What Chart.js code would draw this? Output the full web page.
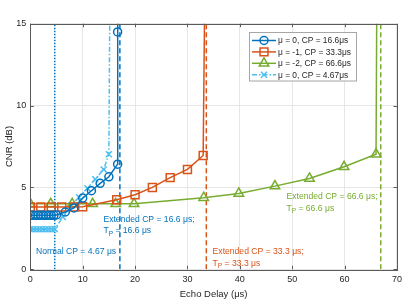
<!DOCTYPE html>
<html>
<head>
<meta charset="utf-8">
<script src="https://cdn.jsdelivr.net/npm/chart.js@4"></script>
<style>
html,body{margin:0;padding:0;background:#fff;}
#wrap{width:407px;height:303px;}
</style>
</head>
<body>
<div id="wrap"><canvas id="c" width="407" height="303"></canvas></div>
<script>
// ---- data ----
const xTicks = [0,10,20,30,40,50,60,70];
const yTicks = [0,5,10,15];

const s1Label = 'μ = 0, CP = 16.6μs';
const s1X = [0,0.5,1,1.5,2,2.5,3,3.5,4,4.5,5,6.67,8.33,10,11.67,13.33,15,16.67,16.67,16.7];
const s1Y = [3.3,3.3,3.3,3.3,3.3,3.3,3.3,3.3,3.3,3.3,3.32,3.5,3.75,4.35,4.8,5.25,5.65,6.42,14.5,20];

const s2Label = 'μ = -1, CP = 33.3μs';
const s2X = [0,2,4,6,8.3,10,16.5,20,23.3,26.7,30,33,33.4];
const s2Y = [3.8,3.8,3.8,3.8,3.8,3.82,4.25,4.55,5.0,5.6,6.1,6.95,20];

const s3Label = 'μ = -2, CP = 66.6μs';
const s3X = [0,3.9,8,11.9,16.3,19.8,33.1,39.8,46.7,53.3,59.9,66.0,66.2];
const s3Y = [4.0,4.0,4.0,4.0,4.0,4.0,4.37,4.63,5.08,5.55,6.26,7.03,20];

const s4Label = 'μ = 0, CP = 4.67μs';
const s4X = [0,0.58,1.17,1.75,2.33,2.92,3.5,4.08,4.67,6.2,7.8,9.3,10.9,12.4,14.0,15.0,15.25];
const s4Y = [2.45,2.45,2.45,2.45,2.45,2.45,2.45,2.45,2.45,3.2,3.9,4.4,4.95,5.5,6.1,7.03,20];

// vertical CP markers (x positions)
const cpDotted = [4.67];
const cpDashed = [17.1, 33.6, 66.9];

// annotation texts
const annTexts = [
  ['Extended CP = 16.6 μs;', 'T|P| = 16.6 μs'],
  ['Normal CP = 4.67 μs'],
  ['Extended CP = 33.3 μs;', 'T|P| = 33.3 μs'],
  ['Extended CP = 66.6 μs;', 'T|P| = 66.6 μs']
];
const annAnchorX = [13.96, 1.08, 34.8, 48.9];
const annAnchorY = [3.05, 1.07, 1.07, 4.43];

const xTitle = 'Echo Delay (μs)';
const yTitle = 'CNR (dB)';

// ---- styles ----
const C_BLUE = '#0072BD', C_ORANGE = '#D95319', C_GREEN = '#77AC30', C_LBLUE = '#4DBEEE';
const annColors = [C_BLUE, C_BLUE, C_ORANGE, C_GREEN];
const FONT = '"Liberation Sans", Arial, sans-serif';

const pts = (xs, ys) => xs.map((x, i) => ({x, y: ys[i]}));
const vline = x => [{x, y: 0}, {x, y: 15}];

function series(label, xs, ys, color, style, r, dash) {
  return {
    label, data: pts(xs, ys), showLine: true, borderColor: color,
    backgroundColor: 'rgba(0,0,0,0)', borderWidth: 1.5, borderDash: dash || [],
    pointStyle: style, pointBorderColor: color, pointBackgroundColor: 'rgba(0,0,0,0)',
    pointBorderWidth: 1.5, pointRadius: ctx => (ctx.raw && ctx.raw.y > 15 ? 0 : r),
    pointHoverRadius: 0, tension: 0, isSeries: true
  };
}
function vds(x, color, dash) {
  return {label: '', data: vline(x), showLine: true, borderColor: color, borderWidth: 1.5,
    borderDash: dash, pointRadius: 0, isSeries: false};
}

const datasets = [
  series(s1Label, s1X, s1Y, C_BLUE, 'circle', 4),
  series(s2Label, s2X, s2Y, C_ORANGE, 'rect', 5.6),
  series(s3Label, s3X, s3Y, C_GREEN, 'triangle', 5.5),
  series(s4Label, s4X, s4Y, C_LBLUE, 'crossRot', 4.2, [5, 2, 1.5, 2]),
  vds(cpDotted[0], C_BLUE, [1.5, 1.5]),
  vds(cpDashed[0], C_BLUE, [5, 3]),
  vds(cpDashed[1], C_ORANGE, [5, 3]),
  vds(cpDashed[2], C_GREEN, [5, 3])
];

function drawMarker(ctx, style, x, y, r, color) {
  Chart.helpers.drawPoint(ctx, {pointStyle: style, radius: r, borderWidth: 1.5}, x, y);
}

const decor = {
  id: 'decor',
  afterDatasetsDraw(chart) {
    const {ctx, chartArea: a, scales} = chart;
    const xs = scales.x, ys = scales.y;
    ctx.save();
    // frame + inward ticks
    ctx.strokeStyle = '#5a5a5a';
    ctx.lineWidth = 1;
    ctx.strokeRect(Math.round(a.left) + 0.5, Math.round(a.top) + 0.5,
      Math.round(a.right - a.left), Math.round(a.bottom - a.top));
    ctx.beginPath();
    xTicks.forEach(v => {
      const px = Math.round(xs.getPixelForValue(v)) + 0.5;
      ctx.moveTo(px, a.bottom); ctx.lineTo(px, a.bottom - 3.5);
      ctx.moveTo(px, a.top); ctx.lineTo(px, a.top + 3.5);
    });
    yTicks.forEach(v => {
      const py = Math.round(ys.getPixelForValue(v)) + 0.5;
      ctx.moveTo(a.left, py); ctx.lineTo(a.left + 3.5, py);
      ctx.moveTo(a.right, py); ctx.lineTo(a.right - 3.5, py);
    });
    ctx.stroke();

    // annotations
    ctx.textBaseline = 'middle';
    ctx.textAlign = 'left';
    annTexts.forEach((lines, i) => {
      ctx.fillStyle = annColors[i];
      const x0 = xs.getPixelForValue(annAnchorX[i]);
      const y0 = ys.getPixelForValue(annAnchorY[i]);
      lines.forEach((t, j) => {
        const y = y0 + j * 11.5;
        const parts = t.split('|');
        let x = x0;
        parts.forEach((p, k) => {
          if (k === 1) {
            ctx.font = '6.5px ' + FONT;
            ctx.fillText(p, x, y + 3);
          } else {
            ctx.font = '8.6px ' + FONT;
            ctx.fillText(p, x, y);
          }
          x += ctx.measureText(p).width;
        });
      });
    });

    // legend
    const L = {l: 249.5, t: 32.5, r: 356.5, b: 81};
    ctx.fillStyle = '#fff';
    ctx.fillRect(L.l, L.t, L.r - L.l, L.b - L.t);
    ctx.strokeStyle = '#a6a6a6';
    ctx.lineWidth = 1;
    ctx.strokeRect(L.l, L.t, L.r - L.l, L.b - L.t);
    const ser = chart.data.datasets.filter(d => d.isSeries);
    ser.forEach((d, i) => {
      const y = 40.5 + i * 11.4;
      ctx.strokeStyle = d.borderColor;
      ctx.lineWidth = 1.5;
      ctx.setLineDash(d.borderDash || []);
      ctx.beginPath(); ctx.moveTo(252, y); ctx.lineTo(276, y); ctx.stroke();
      ctx.setLineDash([]);
      const r = typeof d.pointRadius === 'function' ? d.pointRadius({raw: {y: 0}}) : d.pointRadius;
      ctx.fillStyle = 'rgba(0,0,0,0)';
      drawMarker(ctx, d.pointStyle, 264, y, r, d.borderColor);
      ctx.fillStyle = '#262626';
      ctx.font = '8.4px ' + FONT;
      ctx.textAlign = 'left';
      ctx.fillText(d.label, 278, y + 0.5);
    });

    // axis titles
    ctx.fillStyle = '#262626';
    ctx.font = '9.5px ' + FONT;
    ctx.textAlign = 'center';
    ctx.fillText(xTitle, (a.left + a.right) / 2, 294);
    ctx.save();
    ctx.translate(9, (a.top + a.bottom) / 2);
    ctx.rotate(-Math.PI / 2);
    ctx.fillText(yTitle, 0, 0);
    ctx.restore();
    ctx.restore();
  }
};

new Chart(document.getElementById('c'), {
  type: 'scatter',
  data: {datasets},
  options: {
    responsive: false,
    animation: false,
    events: [],
    layout: {padding: {left: 0, top: 23.7, right: 7.5, bottom: 0}},
    plugins: {legend: {display: false}, tooltip: {enabled: false}},
    scales: {
      x: {
        type: 'linear', min: 0, max: 70,
        afterBuildTicks: s => { s.ticks = xTicks.map(v => ({value: v})); },
        afterFit: s => { s.height = 33.7; },
        grid: {color: '#e6e6e6', lineWidth: 1, drawTicks: false},
        border: {display: false},
        ticks: {padding: 5, color: '#262626', font: {family: FONT, size: 9}, maxRotation: 0}
      },
      y: {
        type: 'linear', min: 0, max: 15,
        afterBuildTicks: s => { s.ticks = yTicks.map(v => ({value: v})); },
        afterFit: s => { s.width = 30.3; },
        grid: {color: '#e6e6e6', lineWidth: 1, drawTicks: false},
        border: {display: false},
        ticks: {padding: 4, color: '#262626', font: {family: FONT, size: 9}}
      }
    }
  },
  plugins: [decor]
});
</script>
</body>
</html>
